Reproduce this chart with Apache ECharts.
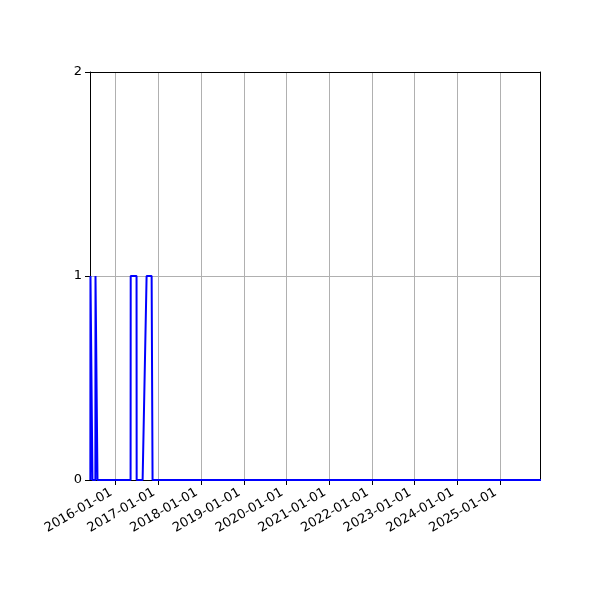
<!DOCTYPE html>
<html>
<head>
<meta charset="utf-8">
<script src="https://cdn.jsdelivr.net/npm/echarts@6/dist/echarts.min.js"></script>
<style>html,body{margin:0;padding:0;background:#fff}#c{width:600px;height:600px}</style>
</head>
<body>
<div id="c"></div>
<script>
var dates = ['2015-05-30','2015-05-31','2015-06-16','2015-06-17','2015-07-12','2015-07-13','2015-07-29','2015-07-30',
  '2016-05-08','2016-05-09','2016-06-28','2016-06-29','2016-08-19','2016-09-22','2016-11-04','2016-11-12','2025-12-31'];
var values = [0,1,1,0,0,1,1,0,0,1,1,0,0,1,1,0,0];
var yTicks = [0,1,2];
var xMin = '2015-05-27';
var xMax = '2025-12-08';

var data = dates.map(function(d,i){return [d, values[i]];});
var chart = echarts.init(document.getElementById('c'));
var DAY = 24*3600*1000;
var frameX = {type: 'time', min: xMin, max: xMax, position: 'top',
  axisLine: {show: true, onZero: false, lineStyle: {color: '#000', width: 1}},
  axisTick: {show: false}, axisLabel: {show: false}, splitLine: {show: false}};
var frameY = {type: 'value', min: yTicks[0], max: yTicks[yTicks.length-1], position: 'right',
  axisLine: {show: true, onZero: false, lineStyle: {color: '#000', width: 1}},
  axisTick: {show: false}, axisLabel: {show: false}, splitLine: {show: false}};
chart.setOption({
  animation: false,
  grid: {left: 90, right: 60, top: 72, bottom: 120},
  xAxis: [{
    type: 'time',
    min: xMin, max: xMax,
    minInterval: 365*DAY, maxInterval: 366*DAY,
    splitNumber: 11,
    axisLine: {show: true, onZero: false, lineStyle: {color: '#000', width: 1}},
    axisTick: {show: true, length: 5, lineStyle: {color: '#000'}},
    splitLine: {show: true, lineStyle: {color: '#b0b0b0', width: 1}},
    axisLabel: {formatter: '{yyyy}-{MM}-{dd}', rotate: 30, color: '#000', fontFamily: 'DejaVu Sans', fontSize: 13, margin: 9, padding: [0, 5, 0, 0], showMinLabel: false, showMaxLabel: false, hideOverlap: false}
  }, frameX],
  yAxis: [{
    type: 'value', min: yTicks[0], max: yTicks[yTicks.length-1], interval: 1,
    axisLine: {show: true, onZero: false, lineStyle: {color: '#000', width: 1}},
    axisTick: {show: true, length: 5, lineStyle: {color: '#000'}},
    splitLine: {show: true, lineStyle: {color: '#b0b0b0', width: 1}},
    axisLabel: {color: '#000', fontFamily: 'DejaVu Sans', fontSize: 13, margin: 8}
  }, frameY],
  series: [{
    type: 'line', data: data, showSymbol: false, symbol: 'none', xAxisIndex: 0, yAxisIndex: 0,
    lineStyle: {color: '#0000ff', width: 2}, clip: true
  }]
});
</script>
</body>
</html>
